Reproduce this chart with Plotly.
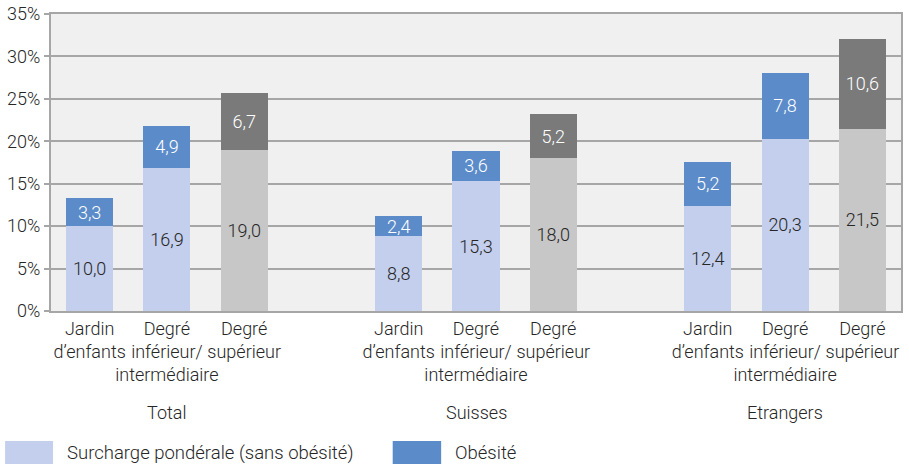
import plotly.graph_objects as go

# positions of bars on the x axis (gaps between the groups)
positions = [0, 1, 2, 4, 5, 6, 8, 9, 10]
tick_labels = ["Jardin<br>d’enfants", "Degré<br>inférieur/<br>intermédiaire", "Degré<br>supérieur"] * 3
groups = ["Total", "Suisses", "Etrangers"]
group_centers = [1, 5, 9]
y_ticks = [0, 5, 10, 15, 20, 25, 30, 35]

surcharge = [10.0, 16.9, 19.0, 8.8, 15.3, 18.0, 12.4, 20.3, 21.5]
obesite = [3.3, 4.9, 6.7, 2.4, 3.6, 5.2, 5.2, 7.8, 10.6]

LIGHT_BLUE = "#c3cfec"
BLUE = "#5b8bc9"
LIGHT_GREY = "#c6c7c6"
DARK_GREY = "#7a7a7a"
TXT = "#262626"
FS = 18

# Degré supérieur bars in grey
light_cols = [LIGHT_GREY if i % 3 == 2 else LIGHT_BLUE for i in range(9)]
dark_cols = [DARK_GREY if i % 3 == 2 else BLUE for i in range(9)]

def fmt(v):
    return f"{v:.1f}".replace(".", ",")

def font(color=TXT, size=FS):
    return dict(family="Roboto", size=size, color=color, weight=300)

fig = go.Figure()
fig.add_trace(go.Bar(
    x=positions, y=surcharge, name="Surcharge pondérale (sans obésité)",
    marker=dict(color=light_cols, line=dict(width=0)),
    text=[fmt(v) for v in surcharge], textposition="inside",
    insidetextanchor="middle", textangle=0,
    textfont=font(), width=0.61, showlegend=False, hoverinfo="skip",
))
fig.add_trace(go.Bar(
    x=positions, y=obesite, name="Obésité",
    marker=dict(color=dark_cols, line=dict(width=0)),
    text=[fmt(v) for v in obesite], textposition="inside",
    insidetextanchor="middle", textangle=0,
    textfont=font("white"), width=0.61, showlegend=False, hoverinfo="skip",
))

# group labels
for g, c in zip(groups, group_centers):
    fig.add_annotation(x=c, xref="x", y=-0.343, yref="paper", text=g,
                       yanchor="middle", showarrow=False, font=font())

# custom legend
legend_items = [("Surcharge pondérale (sans obésité)", LIGHT_BLUE, -0.054, 0.0024),
                ("Obésité", BLUE, 0.402, 0.459)]
for label, col, x0, x1 in legend_items:
    fig.add_shape(type="rect", xref="paper", yref="paper", x0=x0, x1=x1,
                  y0=-0.515, y1=-0.438, fillcolor=col, line=dict(width=0))
    fig.add_annotation(x=x1 + 0.014, xref="paper", y=-0.477, yref="paper",
                       text=label, showarrow=False, xanchor="left",
                       yanchor="middle", font=font(size=18.5))

fig.update_layout(
    width=909, height=465,
    barmode="stack",
    margin=dict(l=51, r=8, t=14, b=154, autoexpand=False),
    paper_bgcolor="white", plot_bgcolor="#f0f0f0",
    font=font(),
    uniformtext=dict(minsize=FS, mode="show"),
)
fig.update_xaxes(
    tickvals=positions, ticktext=tick_labels, range=[-0.5, 10.5],
    showline=True, linecolor="#a6a6a6", linewidth=2, mirror=True,
    showgrid=False, ticks="", tickfont=font(), tickangle=0, automargin=False,
)
fig.update_yaxes(
    range=[0, 35], tickvals=y_ticks, ticktext=[f"{t}%" for t in y_ticks],
    showline=True, linecolor="#a6a6a6", linewidth=2, mirror=True,
    showgrid=True, gridcolor="#a6a6a6", gridwidth=1.5,
    ticks="outside", ticklen=5, tickcolor="#a6a6a6", tickwidth=1.5,
    zeroline=False, tickfont=font(), automargin=False,
)

fig.write_html("out.html", config={"displayModeBar": False},
               post_script="document.body.style.margin='0';")
